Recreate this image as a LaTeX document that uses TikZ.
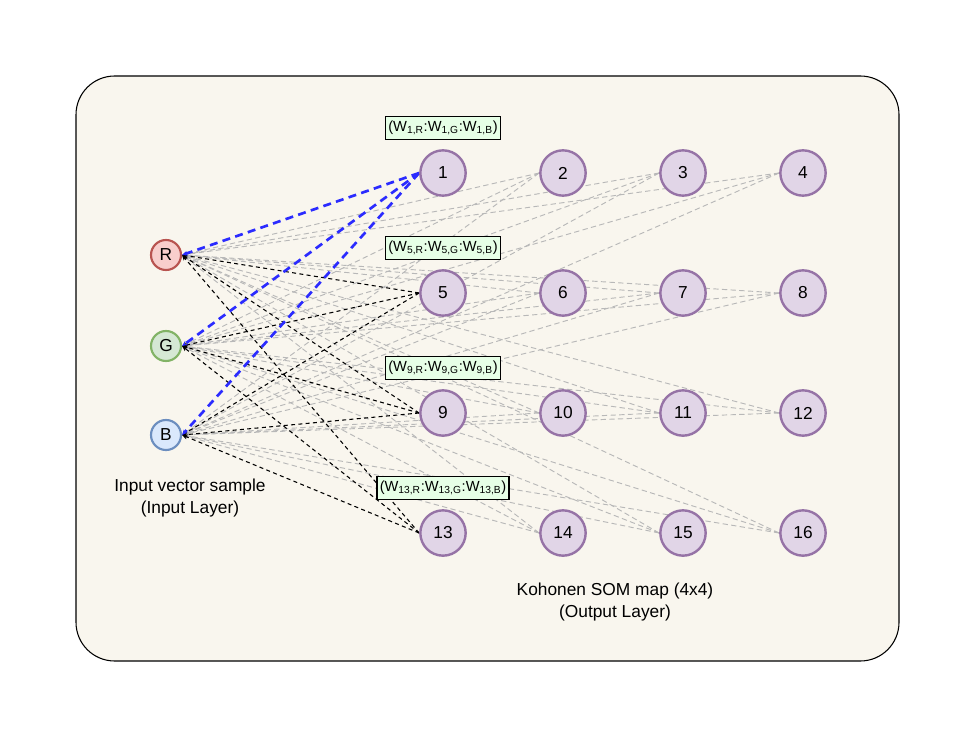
\documentclass[tikz,border=0pt]{standalone}
\usepackage{fontspec}
\setmainfont{Liberation Sans}
\usetikzlibrary{arrows.meta}
\definecolor{paper}{HTML}{F9F6EE}
\definecolor{somfill}{HTML}{E1D5E7}
\definecolor{somline}{HTML}{9673A6}
\definecolor{rfill}{HTML}{F8CECC}
\definecolor{rline}{HTML}{B85450}
\definecolor{gfill}{HTML}{D5E8D4}
\definecolor{gline}{HTML}{82B366}
\definecolor{bfill}{HTML}{DAE8FC}
\definecolor{bline}{HTML}{6C8EBF}
\definecolor{wfill}{HTML}{E6FFE6}
\definecolor{linkgray}{HTML}{B8B8B8}
\definecolor{linkblue}{HTML}{2B2BFF}
\pgfdeclarelayer{frame}
\pgfdeclarelayer{edges}
\pgfsetlayers{frame,edges,main}
\begin{document}
\begin{tikzpicture}[x=0.75pt,y=-0.75pt,
    insym/.style={circle,draw,line width=1.6pt,minimum size=22.5pt,inner sep=0pt,font=\fontsize{13}{15}\selectfont},
    som/.style={circle,draw=somline,fill=somfill,line width=1.8pt,minimum size=34pt,inner sep=0pt,font=\fontsize{13}{15}\selectfont},
    wbox/.style={draw,fill=wfill,line width=0.9pt,inner xsep=2pt,inner ysep=3.5pt,font=\fontsize{11}{12}\selectfont},
    caption/.style={align=center,font=\fontsize{13}{16}\selectfont},
    link/.style={dashed,-{Stealth[length=4pt,width=3.5pt]}},
    farlink/.style={link,draw=linkgray,line width=0.7pt,dash pattern=on 4pt off 2.5pt},
    nearlink/.style={link,line width=0.8pt,dash pattern=on 3pt off 2.5pt},
    winlink/.style={link,draw=linkblue,line width=2pt,dash pattern=on 6pt off 4pt}]
  \useasboundingbox (0,0) rectangle (977,738);
  \begin{pgfonlayer}{frame}
    \draw [fill=paper, line width=0.8pt, rounded corners=29pt] (76,76) rectangle (899,661);
  \end{pgfonlayer}

  % input layer
  \node [insym, draw=rline, fill=rfill] (R) at (166,255) {R};
  \node [insym, draw=gline, fill=gfill] (G) at (166,346) {G};
  \node [insym, draw=bline, fill=bfill] (B) at (166,435) {B};
  \node [caption] (inlbl) at (190,498) {Input vector sample\\(Input Layer)};

  % output layer, 4x4 map
  \foreach \r in {0,...,3}
    \foreach \c in {0,...,3} {
      \pgfmathtruncatemacro\n{4*\r+\c+1}
      \node [som] (k\n) at ({443+120*\c},{173+120*\r}) {\n};
    }
  \node [caption] (outlbl) at (615,602) {Kohonen SOM map (4x4)\\(Output Layer)};

  % weight labels
  \foreach \n/\y in {1/128,5/248,9/368,13/488}
    \node [wbox] (w\n) at (443,\y) {(W\textsubscript{\n,R}:W\textsubscript{\n,G}:W\textsubscript{\n,B})};

  \begin{pgfonlayer}{edges}
    \foreach \n in {2,3,4,6,7,8,10,11,12,14,15,16}
      \foreach \s in {R,G,B}
        \draw [farlink] (k\n.west) -- (\s.east);
    \foreach \n in {5,9,13}
      \foreach \s in {R,G,B}
        \draw [nearlink] (k\n.west) -- (\s.east);
    \foreach \s in {R,G,B}
      \draw [winlink] (k1.west) -- (\s.east);
  \end{pgfonlayer}
\end{tikzpicture}
\end{document}
